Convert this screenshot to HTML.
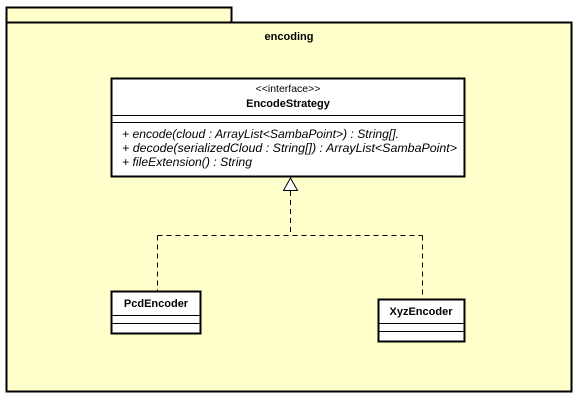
<!DOCTYPE html>
<html><head><style>body{margin:0;background:#fff}svg{display:block}</style></head><body>
<svg width="581" height="400" xmlns="http://www.w3.org/2000/svg" font-family="Liberation Sans, sans-serif" font-size="11">
<rect x="6.5" y="7.5" width="225" height="15" fill="#ffffcc" stroke="#000" stroke-width="2"/>
<rect x="6.5" y="22.5" width="565" height="369" fill="#ffffcc" stroke="#000" stroke-width="2"/>
<text x="289" y="40" text-anchor="middle" font-weight="bold">encoding</text>
<rect x="111.5" y="78.5" width="353" height="98" fill="#fff" stroke="#000" stroke-width="2"/>
<line x1="111" y1="115.5" x2="465" y2="115.5" stroke="#000"/>
<line x1="111" y1="122.5" x2="465" y2="122.5" stroke="#000"/>
<text x="288" y="92" text-anchor="middle" font-size="10.5">&lt;&lt;interface&gt;&gt;</text>
<text x="288" y="107" text-anchor="middle" font-weight="bold">EncodeStrategy</text>
<text x="122" y="138" font-style="italic" font-size="11.5" textLength="277" lengthAdjust="spacingAndGlyphs">+ encode(cloud : ArrayList&lt;SambaPoint&gt;) : String[].</text>
<text x="122" y="152" font-style="italic" font-size="11.5" textLength="335" lengthAdjust="spacingAndGlyphs">+ decode(serializedCloud : String[]) : ArrayList&lt;SambaPoint&gt;</text>
<text x="122" y="166" font-style="italic" font-size="11.5" textLength="130" lengthAdjust="spacingAndGlyphs">+ fileExtension() : String</text>
<g stroke="#000" stroke-dasharray="5,4" fill="none">
<path d="M290.5 191 V235.5 M157.5 235.5 H422.5 M157.5 235.5 V291 M422.5 235.5 V299"/>
</g>
<polygon points="290.5,178 283.5,190.5 297.5,190.5" fill="#fff" stroke="#000"/>
<rect x="111.5" y="291.5" width="89" height="42" fill="#fff" stroke="#000" stroke-width="2"/>
<line x1="111" y1="315.5" x2="201" y2="315.5" stroke="#000"/>
<line x1="111" y1="323.5" x2="201" y2="323.5" stroke="#000"/>
<text x="156" y="307" text-anchor="middle" font-weight="bold">PcdEncoder</text>
<rect x="378.5" y="299.5" width="86" height="42" fill="#fff" stroke="#000" stroke-width="2"/>
<line x1="378" y1="323.5" x2="465" y2="323.5" stroke="#000"/>
<line x1="378" y1="331.5" x2="465" y2="331.5" stroke="#000"/>
<text x="421" y="315" text-anchor="middle" font-weight="bold">XyzEncoder</text>
</svg>
</body></html>
